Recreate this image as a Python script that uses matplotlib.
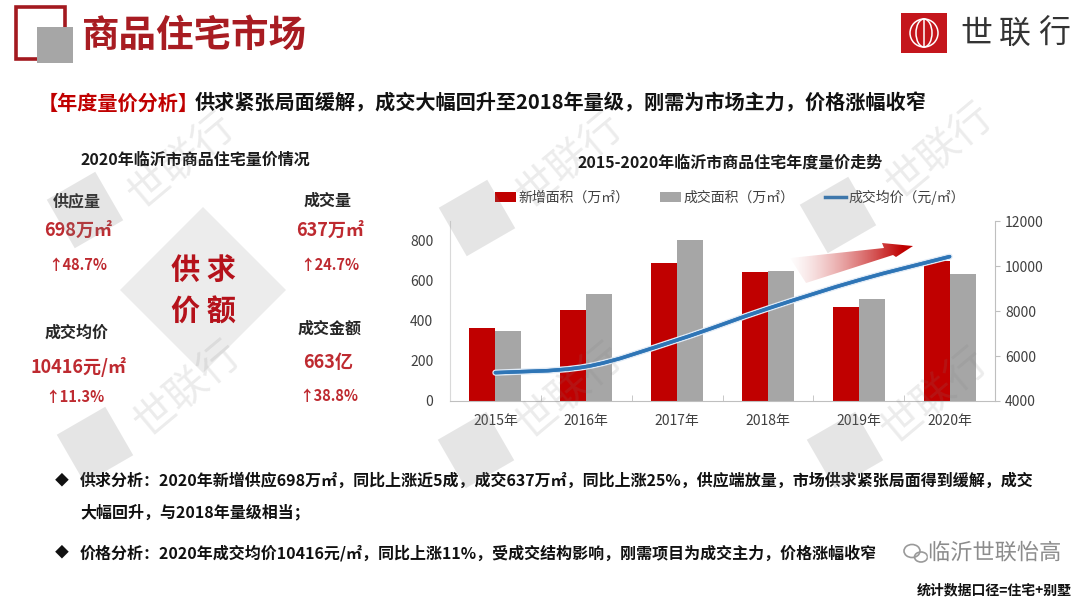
import numpy as np
import matplotlib.pyplot as plt
from matplotlib.patches import Rectangle, Polygon, Ellipse, PathPatch, Patch
from matplotlib.path import Path
from matplotlib.lines import Line2D
import matplotlib.patheffects as pe

plt.rcParams['font.family'] = ['Noto Sans CJK SC', 'DejaVu Sans']

# data
years = ['2015年', '2016年', '2017年', '2018年', '2019年', '2020年']
new_area = [366, 457, 688, 647, 470, 698]       # 新增面积（万㎡）
deal_area = [350, 537, 803, 650, 510, 637]      # 成交面积（万㎡）
avg_price = [5260, 5530, 6710, 8110, 9370, 10416]  # 成交均价（元/㎡）
left_ticks = [0, 200, 400, 600, 800]
right_ticks = [4000, 6000, 8000, 10000, 12000]

RED = '#c00000'
GRAY = '#a6a6a6'
BLUE = '#2e75b6'
TXT_RED = '#be2a30'

W, H = 1080, 608
fig = plt.figure(figsize=(10.8, 6.08), dpi=100)

# background layer in pixel coordinates (y goes down)
bg = fig.add_axes([0, 0, 1, 1], zorder=0)
bg.set_xlim(0, W)
bg.set_ylim(H, 0)
bg.axis('off')

# header
bg.add_patch(Rectangle((16, 7), 49, 52, fill=False, ec='#a3191f', lw=2.6))
bg.add_patch(Rectangle((37, 27), 36, 36, fc='#a6a6a6', ec='none'))
bg.text(82, 36, '商品住宅市场', fontsize=27, fontweight='bold', color='#a81c22', va='center')

# brand logo
bg.add_patch(Rectangle((901, 13), 46, 40, fc='#c4161c', ec='none'))
for w in [28, 16]:
    bg.add_patch(Ellipse((924, 33), w, 28, fill=False, ec='white', lw=1.1))
bg.plot([924, 924], [19, 47], color='white', lw=1.1)
for i, ch in enumerate('世联行'):
    bg.text(976 + i * 39, 34, ch, fontsize=23, color='#333333', ha='center', va='center')

# subtitle
bg.text(38, 103, '【年度量价分析】', fontsize=14.5, fontweight='bold', color='#c00000', va='center')
bg.text(195, 103, '供求紧张局面缓解，成交大幅回升至2018年量级，刚需为市场主力，价格涨幅收窄',
        fontsize=14.5, fontweight='bold', color='#111111', va='center')

# left panel
bg.add_patch(Polygon([(120, 290), (203, 207), (286, 290), (203, 373)], fc='#ececec', ec='none'))
bg.text(195, 160, '2020年临沂市商品住宅量价情况', fontsize=11.5, fontweight='bold',
        color='#1a1a1a', ha='center', va='center')
panel = [
    (77, 201, '供应量', 11.5, '#262626'), (78, 230, '698万㎡', 13, TXT_RED), (78, 265, '↑48.7%', 10.5, TXT_RED),
    (328, 201, '成交量', 11.5, '#262626'), (330, 230, '637万㎡', 13, TXT_RED), (330, 265, '↑24.7%', 10.5, TXT_RED),
    (77, 333, '成交均价', 11.5, '#262626'), (79, 367, '10416元/㎡', 13, TXT_RED), (75, 397, '↑11.3%', 10.5, TXT_RED),
    (330, 329, '成交金额', 11.5, '#262626'), (328, 362, '663亿', 13, TXT_RED), (329, 396, '↑38.8%', 10.5, TXT_RED),
]
for px, py, s, fs, c in panel:
    bg.text(px, py, s, fontsize=fs, fontweight='bold', color=c, ha='center', va='center')
bg.text(203, 270, '供 求', fontsize=21, fontweight='bold', color='#b5121b', ha='center', va='center')
bg.text(203, 312, '价 额', fontsize=21, fontweight='bold', color='#b5121b', ha='center', va='center')

# chart title
bg.text(730, 163, '2015-2020年临沂市商品住宅年度量价走势', fontsize=11.5, fontweight='bold',
        color='#1a1a1a', ha='center', va='center')

# bottom text
bg.text(62, 481, '◆', fontsize=10, color='#111111', ha='center', va='center')
bg.text(80, 481, '供求分析：2020年新增供应698万㎡，同比上涨近5成，成交637万㎡，同比上涨25%，供应端放量，市场供求紧张局面得到缓解，成交',
        fontsize=11.5, fontweight='bold', color='#111111', va='center')
bg.text(80, 512, '大幅回升，与2018年量级相当；', fontsize=11.5, fontweight='bold', color='#111111', va='center')
bg.text(62, 553, '◆', fontsize=10, color='#111111', ha='center', va='center')
bg.text(80, 553, '价格分析：2020年成交均价10416元/㎡，同比上涨11%，受成交结构影响，刚需项目为成交主力，价格涨幅收窄',
        fontsize=11.5, fontweight='bold', color='#111111', va='center')
bg.text(1072, 590, '统计数据口径=住宅+别墅', fontsize=10, fontweight='bold', color='#111111',
        ha='right', va='center')

# chart
ax = fig.add_axes([450 / W, 1 - 401 / H, 545 / W, 180 / H], zorder=2)
ax.patch.set_alpha(0)
x = np.arange(len(years))
bw = 0.286
ax.bar(x - bw / 2, new_area, bw, color=RED, zorder=2)
ax.bar(x + bw / 2, deal_area, bw, color=GRAY, zorder=2)
ax.set_xlim(-0.5, len(years) - 0.5)
ax.set_ylim(0, 900)
ax.set_yticks(left_ticks)
ax.set_xticks(x)
ax.set_xticklabels(years)
ax.set_xticks(np.arange(-0.5, len(years), 1), minor=True)
ax.tick_params(axis='x', which='major', length=0, pad=9, labelsize=10, labelcolor='#404040')
ax.tick_params(axis='x', which='minor', length=4, direction='in', color='#bfbfbf')
ax.tick_params(axis='y', length=0, pad=12, labelsize=10, labelcolor='#404040')
ax.spines['top'].set_visible(False)
ax.spines['right'].set_visible(False)
ax.spines['left'].set_color('#d9d9d9')
ax.spines['bottom'].set_color('#bfbfbf')

ax2 = ax.twinx()
ax2.set_zorder(3)
ax2.patch.set_visible(False)
ax2.set_ylim(4000, 12000)
ax2.set_yticks(right_ticks)
ax2.tick_params(axis='y', length=3.6, direction='out', color='#bfbfbf', pad=3.6,
                labelsize=10, labelcolor='#404040')
for s in ['top', 'left', 'bottom']:
    ax2.spines[s].set_visible(False)
ax2.spines['right'].set_color('#bfbfbf')

# smoothed price line (Catmull-Rom as bezier)
pts = np.column_stack([x, avg_price]).astype(float)
n = len(pts)
verts = [pts[0]]
codes = [Path.MOVETO]
for i in range(n - 1):
    p0, p1, p2, p3 = pts[max(i - 1, 0)], pts[i], pts[i + 1], pts[min(i + 2, n - 1)]
    verts += [p1 + (p2 - p0) / 6, p2 - (p3 - p1) / 6, p2]
    codes += [Path.CURVE4] * 3
ax2.add_patch(PathPatch(Path(verts, codes), fill=False, ec=BLUE, lw=2.5, capstyle='round',
                        path_effects=[pe.withStroke(linewidth=4.5, foreground='#dfeaf6'), pe.Normal()]))

handles = [Patch(fc=RED), Patch(fc=GRAY), Line2D([], [], color=BLUE, lw=2.5)]
labels = ['新增面积（万㎡）', '成交面积（万㎡）', '成交均价（元/㎡）']
fig.legend(handles, labels, loc='center', bbox_to_anchor=(730 / W, 1 - 197 / H), ncol=3,
           frameon=False, fontsize=10, labelcolor='#404040', handlelength=1.5,
           handletextpad=0.2, columnspacing=2.2)

# top overlay: arrow and watermarks
top = fig.add_axes([0, 0, 1, 1], zorder=10)
top.patch.set_visible(False)
top.axis('off')

arrow = Polygon([(790, 258), (884, 248), (882, 243), (913, 246), (896, 257), (893, 255), (806, 283)],
                closed=True, fc='none', ec='none', transform=top.transData)
top.add_patch(arrow)
gx = np.linspace(0, 1, 200)
grad = np.zeros((2, 200, 4))
grad[..., 0] = 0.75
grad[..., 3] = np.clip(gx * 1.1, 0, 1) ** 1.4
im = top.imshow(grad, extent=(786, 915, 285, 240), aspect='auto', interpolation='bilinear')
im.set_clip_path(arrow)

def watermark(lx, ly, tx, ty):
    s = 28
    a = np.deg2rad(30)
    corners = []
    for k in range(4):
        t = a + np.pi / 4 + k * np.pi / 2
        corners.append((lx + s * 1.414 * np.cos(t), ly - s * 1.414 * np.sin(t)))
    top.add_patch(Polygon(corners, fc='#808080', ec='none', alpha=0.2))
    top.text(tx, ty, '世联行', fontsize=30, color='#808080', alpha=0.15, rotation=40,
             ha='center', va='center')

for lx, ly, tx, ty in [(85, 210, 182, 160), (477, 218, 570, 160), (838, 215, 940, 150),
                       (95, 445, 188, 388), (476, 450, 570, 390), (845, 450, 935, 395)]:
    watermark(lx, ly, tx, ty)

# wechat style mark
top.add_patch(Ellipse((912, 551), 16, 13, fill=False, ec='#9a9a9a', lw=1.2))
top.add_patch(Ellipse((921, 557), 13, 10, fill=False, ec='#9a9a9a', lw=1.2))
top.text(928, 553, '临沂世联怡高', fontsize=16, color='#8c8c8c', va='center',
         path_effects=[pe.withStroke(linewidth=3, foreground='white')])

top.set_xlim(0, W)
top.set_ylim(H, 0)

fig.savefig('out.png', dpi=100, facecolor='white')
